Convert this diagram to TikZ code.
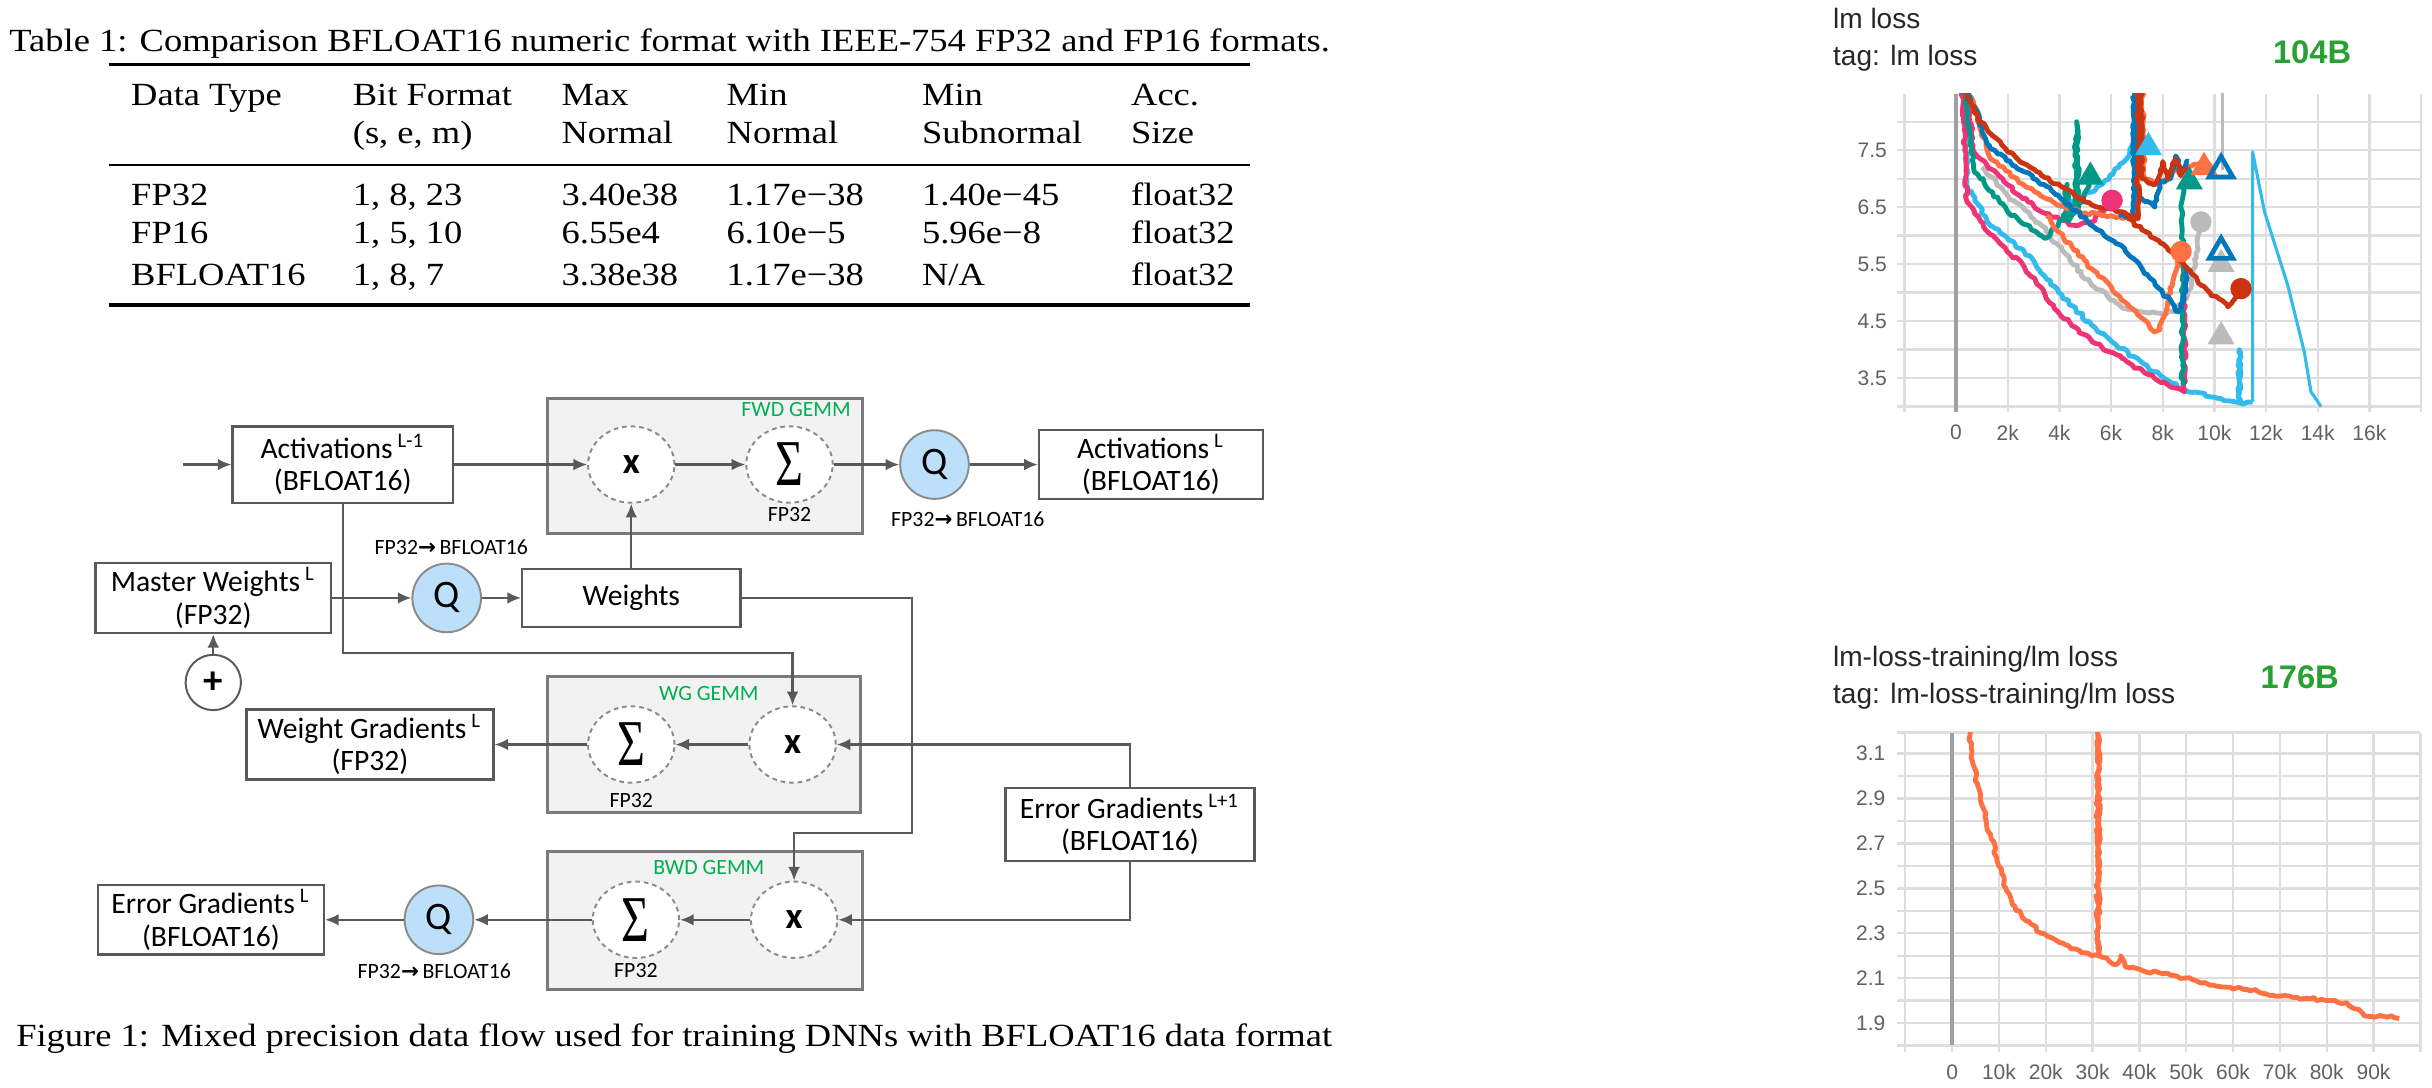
\documentclass[tikz,border=0pt]{standalone}
\usepackage{fontspec}
\setmainfont{Liberation Serif}[FakeStretch=1.13]
\newfontfamily\diagfont{Carlito}
\newfontfamily\tbfont{Liberation Sans}
\newfontfamily\arrfont{DejaVu Sans}
\newfontfamily\sigfont{Liberation Serif}
\usetikzlibrary{arrows.meta,shapes.geometric,decorations.pathmorphing}

\definecolor{edge}{RGB}{89,89,89}
\definecolor{gemmfill}{RGB}{242,242,242}
\definecolor{qfill}{RGB}{189,224,250}
\definecolor{gemmgreen}{RGB}{0,176,80}
\definecolor{tbgreen}{RGB}{40,160,50}
\definecolor{tbgrid}{RGB}{222,222,222}
\definecolor{tbaxis}{RGB}{160,160,160}
\definecolor{tbtick}{RGB}{97,97,97}
\definecolor{tbred}{RGB}{204,51,17}
\definecolor{tbblue}{RGB}{0,119,187}
\definecolor{tborange}{RGB}{255,112,67}
\definecolor{tbteal}{RGB}{0,153,136}
\definecolor{tbcyan}{RGB}{51,187,238}
\definecolor{tbpink}{RGB}{238,51,119}
\definecolor{tbgray}{RGB}{187,187,187}

\newcommand{\tobf}{FP32{\arrfont\bfseries\fontsize{5.5}{6}\selectfont →}\,BFLOAT16}
\newcommand{\opmul}{{\diagfont\bfseries\fontsize{9.5}{9.5}\selectfont x}}
\newcommand{\opsum}{\scalebox{0.88}[1.2]{\sigfont\fontsize{14}{14}\selectfont Σ}}

\begin{document}
\pgfmathsetseed{7}
\begin{tikzpicture}[
  x=0.014cm, y=-0.014cm,
  tabtext/.style={anchor=base west,inner sep=0pt,font=\fontsize{8.3}{10}\selectfont},
  box/.style={draw=edge,line width=0.6pt,fill=white,align=center,inner sep=1pt,
    minimum height=0.63cm,font=\diagfont\fontsize{7.6}{8.3}\selectfont},
  gemm/.style={draw=edge!80,line width=0.7pt,fill=gemmfill},
  op/.style={ellipse,draw=edge!70,dash pattern=on 1.2pt off 1pt,line width=0.5pt,fill=white,
    minimum width=0.78cm,minimum height=0.69cm,inner sep=0pt},
  qop/.style={ellipse,draw=edge!70,line width=0.5pt,fill=qfill,minimum width=0.62cm,
    minimum height=0.62cm,inner sep=0pt,font=\diagfont\fontsize{10}{10}\selectfont},
  plus/.style={circle,draw=edge,line width=0.5pt,minimum size=0.5cm,inner sep=0pt,
    font=\diagfont\bfseries\fontsize{10}{10}\selectfont},
  small/.style={inner sep=0pt,font=\diagfont\fontsize{5.6}{6}\selectfont},
  tag/.style={small,text=gemmgreen},
  arc/.style={-{Latex[length=3.5pt,width=3pt]},draw=edge,line width=0.6pt},
  tbtitle/.style={anchor=base west,inner sep=0pt,text=black!85,font=\tbfont\fontsize{7.2}{8}\selectfont},
  tbbig/.style={anchor=base west,inner sep=0pt,text=tbgreen,font=\tbfont\bfseries\fontsize{8.4}{9}\selectfont},
  tick/.style={inner sep=0pt,text=tbtick,font=\tbfont\fontsize{5.4}{6}\selectfont},
  tbline/.style={line width=1.25pt,line join=round,decorate,
    decoration={random steps,segment length=1pt,amplitude=0.45pt}},
  dot/.style={circle,inner sep=0pt,minimum size=5.5pt},
  tri/.style={regular polygon,regular polygon sides=3,inner sep=0pt,minimum size=8pt}
]
\useasboundingbox[fill=white] (0,0) rectangle (1568,701);

% table
\node[tabtext] (tabcap) at (5.6,33.3) {Table 1: Comparison BFLOAT16 numeric format with IEEE-754 FP32 and FP16 formats.};
\draw[line width=0.9pt] (70,41.5) -- (806,41.5);
\node[tabtext] (h1) at (84.1,68.3) {Data Type};
\node[tabtext] (h2) at (227,68.3) {Bit Format};
\node[tabtext] (h2b) at (227,92.8) {(s, e, m)};
\node[tabtext] (h3) at (361.6,68.3) {Max};
\node[tabtext] (h3b) at (361.6,92.8) {Normal};
\node[tabtext] (h4) at (468,68.3) {Min};
\node[tabtext] (h4b) at (468,92.8) {Normal};
\node[tabtext] (h5) at (594,68.3) {Min};
\node[tabtext] (h5b) at (594,92.8) {Subnormal};
\node[tabtext] (h6) at (728.8,68.3) {Acc.};
\node[tabtext] (h6b) at (728.8,92.8) {Size};
\draw[line width=0.5pt] (70,106.4) -- (806,106.4);
\node[tabtext] (r1a) at (84.1,132.2) {FP32};
\node[tabtext] (r1b) at (227,132.2) {1, 8, 23};
\node[tabtext] (r1c) at (361.6,132.2) {3.40e38};
\node[tabtext] (r1d) at (468,132.2) {1.17e−38};
\node[tabtext] (r1e) at (594,132.2) {1.40e−45};
\node[tabtext] (r1f) at (728.8,132.2) {float32};
\node[tabtext] (r2a) at (84.1,156.9) {FP16};
\node[tabtext] (r2b) at (227,156.9) {1, 5, 10};
\node[tabtext] (r2c) at (361.6,156.9) {6.55e4};
\node[tabtext] (r2d) at (468,156.9) {6.10e−5};
\node[tabtext] (r2e) at (594,156.9) {5.96e−8};
\node[tabtext] (r2f) at (728.8,156.9) {float32};
\node[tabtext] (r3a) at (84.1,183.8) {BFLOAT16};
\node[tabtext] (r3b) at (227,183.8) {1, 8, 7};
\node[tabtext] (r3c) at (361.6,183.8) {3.38e38};
\node[tabtext] (r3d) at (468,183.8) {1.17e−38};
\node[tabtext] (r3e) at (594,183.8) {N/A};
\node[tabtext] (r3f) at (728.8,183.8) {float32};
\draw[line width=0.9pt] (70,196.7) -- (806,196.7);

% data flow
\node[gemm,minimum width=2.84cm,minimum height=1.22cm] (fwd) at (454.5,300.5) {};
\node[gemm,minimum width=2.83cm,minimum height=1.23cm] (wg) at (454,480) {};
\node[gemm,minimum width=2.84cm,minimum height=1.25cm] (bwd) at (454.5,593.5) {};
\node[tag,anchor=east] (fwdtag) at (549,264) {FWD GEMM};
\node[tag] (wgtag) at (457,447) {WG GEMM};
\node[tag] (bwdtag) at (457,559) {BWD GEMM};

\coordinate (in) at (118,299.5);
\node[box,minimum width=1.99cm,minimum height=0.69cm] (act1) at (221,299.5) {Activations\,\textsuperscript{L-1}\\(BFLOAT16)};
\node[op] (fmul) at (407,299.5) {\opmul};
\node[op] (fsum) at (509,299.5) {\opsum};
\node[small] (fsumfp) at (509,332) {FP32};
\node[qop] (fq) at (602.5,299.5) {Q};
\node[small] (fqlab) at (624,335) {\tobf};
\node[box,minimum width=2.02cm,minimum height=0.6cm] (act2) at (742,299.5) {Activations\,\textsuperscript{L}\\(BFLOAT16)};

\node[box,minimum width=2.13cm] (mw) at (137.5,385.5) {Master Weights\,\textsuperscript{L}\\(FP32)};
\node[qop] (mq) at (288,385.5) {Q};
\node[small] (mqlab) at (291,353) {\tobf};
\node[box,minimum width=1.97cm,minimum height=0.52cm] (wts) at (407,385.5) {Weights};
\node[plus] (add) at (137.5,440) {+};

\node[op] (wmul) at (511,480) {\opmul};
\node[op] (wsum) at (407,480) {\opsum};
\node[small] (wsumfp) at (407,516) {FP32};
\node[box,minimum width=2.23cm] (wgrad) at (238.5,480) {Weight Gradients\,\textsuperscript{L}\\(FP32)};

\node[box,minimum width=2.25cm,minimum height=0.66cm] (eg1) at (728.5,531.5) {Error Gradients\,\textsuperscript{L+1}\\(BFLOAT16)};

\node[op] (bmul) at (512,593) {\opmul};
\node[op] (bsum) at (410,593) {\opsum};
\node[small] (bsumfp) at (410,626) {FP32};
\node[qop] (bq) at (283,593) {Q};
\node[small] (bqlab) at (280,626) {\tobf};
\node[box,minimum width=2.04cm] (eg) at (136,593) {Error Gradients\,\textsuperscript{L}\\(BFLOAT16)};

\coordinate (k1) at (511,421);
\coordinate (k2) at (588,537);
\draw[arc] (in) -- (act1);
\draw[arc] (act1) -- (fmul);
\draw[arc] (fmul) -- (fsum);
\draw[arc] (fsum) -- (fq);
\draw[arc] (fq) -- (act2);
\draw[arc] (mw) -- (mq);
\draw[arc] (mq) -- (wts);
\draw[arc] (wts) -- (fmul);
\draw[arc] (add) -- (mw);
\draw[arc] (act1) |- (k1) -- (wmul);
\draw[arc] (wts) -| (k2) -| (bmul);
\draw[arc] (eg1) |- (wmul);
\draw[arc] (eg1) |- (bmul);
\draw[arc] (wmul) -- (wsum);
\draw[arc] (wsum) -- (wgrad);
\draw[arc] (bmul) -- (bsum);
\draw[arc] (bsum) -- (bq);
\draw[arc] (bq) -- (eg);

\node[tabtext] (figcap) at (10,674.8) {Figure 1: Mixed precision data flow used for training DNNs with BFLOAT16 data format};

% lm loss, 104B
\node[tbtitle] (t1) at (1181.4,18.3) {lm loss};
\node[tbtitle] (t1b) at (1181.4,41.9) {tag: lm loss};
\node[tbbig] (b1) at (1465,40.8) {104B};
\begin{scope}[shift={(1261.1,372.3)},x=0.2333cm,y=0.5145cm]
  \foreach \k in {-2,0,...,18} \draw[tbgrid,line width=0.6pt] (\k,2.9) -- (\k,8.49);
  \foreach \v in {3.0,3.5,4.0,4.5,5.0,5.5,6.0,6.5,7.0,7.5,8.0} \draw[tbgrid,line width=0.6pt] (-2.3,\v) -- (18,\v);
  \draw[tbaxis,line width=0.9pt] (0,2.9) -- (0,8.49);
  \foreach \v [count=\i] in {3.5,4.5,5.5,6.5,7.5} \node[tick,anchor=east] (ya\i) at (-2.65,\v) {\v};
  \foreach \k [count=\i] in {0,2,...,16} \node[tick] (xa\i) at (\k,2.54) {\ifnum\k=0 0\else\k k\fi};
  \begin{scope}
    \clip (-2.3,2.93) rectangle (18,8.49);
    \draw[tbgray,line width=0.7pt] (10.32,8.6) -- (10.32,7.15);
    \draw[tbline,tbgray] (1.0,7.2) -- (2.0,6.7) -- (3.3,6.18) -- (3.95,5.83) -- (5.25,5.13) -- (6.56,4.72) -- (7.2,4.66) -- (8.45,4.66) -- (8.97,4.96) -- (9.3,5.6) -- (9.48,6.24);
    \draw[tbline,tbcyan] (0.3,8.6) -- (0.42,6.89) -- (1.33,6.18) -- (2.64,5.72) -- (3.95,5.01) -- (5.25,4.43) -- (6.39,4.02) -- (7.68,3.61) -- (8.97,3.26) -- (10.26,3.14) -- (10.97,3.06) -- (10.97,4.0) -- (11.0,3.06) -- (11.48,3.08);
    \draw[tbcyan,line width=0.8pt,line join=round] (11.48,3.08) -- (11.48,7.47) -- (11.94,6.42) -- (12.84,5.13) -- (13.48,3.96) -- (13.74,3.26) -- (14.13,3.0);
    \draw[tbline,tbcyan] (4.0,6.5) -- (4.6,6.6) -- (5.65,6.9) -- (6.3,7.2) -- (6.7,7.4) -- (6.85,7.6) -- (7.3,7.5);
    \draw[tbline,tbpink] (0.25,8.6) -- (0.42,6.6) -- (1.33,6.02) -- (2.64,5.45) -- (3.95,4.66) -- (5.25,4.14) -- (6.39,3.85) -- (7.68,3.5) -- (8.84,3.26) -- (8.84,5.37);
    \draw[tbline,tbpink] (0.4,8.6) -- (0.68,7.47) -- (2.0,6.89) -- (3.3,6.42) -- (4.6,6.18) -- (5.25,6.24) -- (6.04,6.62);
    \draw[tbline,tbteal] (0.3,8.6) -- (0.68,7.18) -- (2.0,6.42) -- (3.3,6.0) -- (3.45,5.95) -- (3.8,6.13) -- (4.2,6.3) -- (4.3,6.9) -- (4.35,6.25) -- (4.6,6.4) -- (4.67,8.0) -- (4.75,6.5) -- (5.2,7.0);
    \draw[tbline,tbteal] (8.77,3.38) -- (8.77,6.89);
    \draw[tbline,tborange] (0.45,8.6) -- (1.33,7.35) -- (2.64,6.89) -- (3.95,6.53) -- (5.0,6.4) -- (6.0,6.35) -- (7.0,6.3) -- (7.1,8.6) -- (7.2,8.6) -- (7.3,7.0) -- (7.8,6.9) -- (8.5,7.15) -- (9.2,7.25) -- (9.8,7.25) -- (10.0,7.06);
    \draw[tbline,tborange] (3.5,6.35) -- (3.95,6.07) -- (5.25,5.42) -- (7.2,4.55) -- (7.68,4.31) -- (7.9,4.35) -- (8.71,5.72);
    \draw[tbline,tbblue] (0.4,8.6) -- (1.33,7.53) -- (2.64,7.12) -- (3.95,6.71) -- (5.25,6.18) -- (6.39,5.83) -- (7.2,5.42) -- (7.68,5.19) -- (8.6,4.66) -- (8.8,4.9) -- (8.97,5.48);
    \draw[tbline,tbblue] (6.3,6.35) -- (6.88,6.35) -- (6.9,8.6) -- (6.95,8.6) -- (7.0,6.7) -- (7.3,6.6) -- (7.7,6.5) -- (7.9,6.95) -- (8.3,7.0) -- (8.5,7.4) -- (8.7,7.1) -- (9.0,7.3);
    \draw[tbline,tbred] (0.3,8.6) -- (0.94,8.0) -- (2.0,7.47) -- (3.3,7.06) -- (4.6,6.71) -- (5.5,6.5) -- (6.39,6.42) -- (7.2,6.1) -- (7.68,5.95) -- (8.71,5.54) -- (9.48,5.13) -- (10.52,4.75) -- (11.03,5.07);
    \draw[tbline,tbred] (6.6,6.35) -- (7.05,6.3) -- (7.05,8.6) -- (7.15,8.6) -- (7.2,7.0) -- (7.7,6.9) -- (8.0,7.3) -- (8.2,7.0) -- (8.5,7.35) -- (8.7,7.05) -- (9.0,7.2);
  \end{scope}
  \node[dot,fill=tbgray] (m1) at (9.48,6.24) {};
  \node[dot,fill=tbpink] (m2) at (6.04,6.62) {};
  \node[dot,fill=tborange] (m3) at (8.71,5.72) {};
  \node[dot,fill=tbred] (m4) at (11.03,5.07) {};
  \node[tri,fill=tbteal] (m5) at (5.2,7.03) {};
  \node[tri,fill=tbteal] (m6) at (9.03,6.95) {};
  \node[tri,fill=tbcyan] (m7) at (7.45,7.55) {};
  \node[tri,fill=tborange] (m8) at (9.6,7.2) {};
  \node[tri,fill=tbgray] (m9) at (10.26,5.5) {};
  \node[tri,fill=tbgray] (m10) at (10.26,4.23) {};
  \node[tri,draw=tbblue,line width=1.2pt,minimum size=7pt] (m11) at (10.26,7.15) {};
  \node[tri,draw=tbblue,line width=1.2pt,minimum size=7pt] (m12) at (10.26,5.72) {};
\end{scope}

% lm-loss-training, 176B
\node[tbtitle] (t2) at (1181.4,429.8) {lm-loss-training/lm loss};
\node[tbtitle] (t2b) at (1181.4,453.5) {tag: lm-loss-training/lm loss};
\node[tbbig] (b2) at (1457,443.8) {176B};
\begin{scope}[shift={(1258.6,934.5)},x=0.04228cm,y=2.027cm]
  \foreach \k in {-10,0,...,100} \draw[tbgrid,line width=0.6pt] (\k,1.77) -- (\k,3.194);
  \foreach \v in {1.8,1.9,2.0,2.1,2.2,2.3,2.4,2.5,2.6,2.7,2.8,2.9,3.0,3.1,3.194} \draw[tbgrid,line width=0.6pt] (-11.75,\v) -- (100,\v);
  \draw[tbaxis,line width=0.9pt] (0,1.8) -- (0,3.194);
  \foreach \v [count=\i] in {1.9,2.1,2.3,2.5,2.7,2.9,3.1} \node[tick,anchor=east] (yb\i) at (-14.1,\v) {\v};
  \foreach \k [count=\i] in {0,10,...,90} \node[tick] (xb\i) at (\k,1.68) {\ifnum\k=0 0\else\k k\fi};
  \begin{scope}
    \clip (-11.75,1.8) rectangle (100,3.194);
    \draw[tbline,tborange] (3.46,3.25) -- (4.5,3.05) -- (5.6,2.95) -- (7,2.82) -- (8.2,2.74) -- (9.94,2.6) -- (11.5,2.5) -- (13.4,2.42) -- (15,2.37) -- (16.9,2.34) -- (19,2.3) -- (21.2,2.28) -- (24,2.25) -- (26.4,2.23) -- (29.8,2.2) -- (31.1,2.2) -- (31.1,3.3) -- (31.3,3.3) -- (31.3,2.2) -- (33,2.19) -- (35,2.16) -- (36,2.2) -- (37,2.15) -- (41,2.13) -- (45,2.12) -- (49.7,2.1) -- (54,2.08) -- (58.3,2.06) -- (63,2.05) -- (67,2.03) -- (72,2.02) -- (75.6,2.01) -- (80,2.0) -- (84.3,1.99) -- (86.9,1.96) -- (88.6,1.93) -- (92,1.93) -- (95.5,1.92);
  \end{scope}
\end{scope}
\end{tikzpicture}
\end{document}
